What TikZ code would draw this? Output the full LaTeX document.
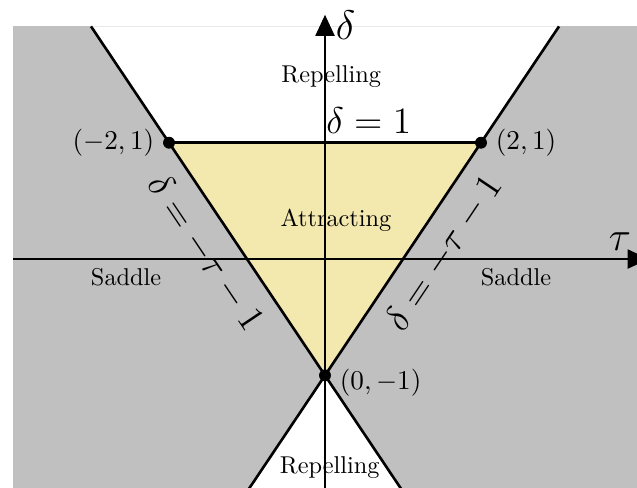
\RequirePackage{fix-cm}
\documentclass[tikz,border=0pt]{standalone}
\usepackage{amsmath}
\usepackage{tikz}
\usetikzlibrary{arrows.meta, positioning}
\definecolor{saddlegray}{RGB}{192,192,192}
\definecolor{attractyellow}{RGB}{243,232,174}

\begin{document}
\begin{tikzpicture}[x=1.15cm, y=1.715cm,
  boundary/.style={line width=1.1pt},
  axis/.style={line width=0.7pt, -{Triangle[length=8.8pt, width=8pt]}},
  fixpt/.style={circle, fill=black, inner sep=0pt, minimum size=5pt},
  region/.style={font=\fontsize{10.2}{12}\selectfont},
  coord/.style={font=\fontsize{11.4}{13.6}\selectfont},
  biglbl/.style={font=\fontsize{15.6}{18}\selectfont},
  axlbl/.style={font=\LARGE}
]
  \clip (-4.167,-1.96) rectangle (4,2.227);
  % regions
  \fill[saddlegray] (-4,-2) rectangle (4.3,2);
  \fill[white] (-3,2) -- (3,2) -- (0,-1) -- cycle;
  \fill[white] (0,-1) -- (-1,-2) -- (1,-2) -- cycle;
  \fill[attractyellow] (-2,1) -- (2,1) -- (0,-1) -- cycle;
  % axes
  \coordinate (tauL) at (-4,0);
  \coordinate (tauR) at (4.15,0);
  \coordinate (delB) at (0,-2);
  \coordinate (delT) at (0,2.1);
  \draw[axis] (tauL) -- (tauR);
  \draw[axis] (delB) -- (delT);
  \node[axlbl] (taulab) at (3.78,0.146) {$\tau$};
  \node[axlbl, anchor=west] (dellab) at (0.03,2.01) {$\delta$};
  % boundaries
  \coordinate (lt) at (-3,2);
  \coordinate (lb) at (1,-2);
  \coordinate (rt) at (3,2);
  \coordinate (rb) at (-1,-2);
  \node[fixpt] (pl) at (-2,1) {};
  \node[fixpt] (pr) at (2,1) {};
  \node[fixpt] (pb) at (0,-1) {};
  \draw[boundary] (lt) -- (lb) node[pos=0.45, sloped, below=3pt, biglbl] {$\delta=-\tau-1$};
  \draw[boundary] (rb) -- (rt) node[pos=0.55, sloped, below=3pt, biglbl] {$\delta=-\tau-1$};
  \draw[boundary] (pl.center) -- (pr.center) node[pos=0.64, above, biglbl] {$\delta=1$};
  \node[coord, left=0pt of pl] (pllab) {$(-2,1)$};
  \node[coord, right=0pt of pr] (prlab) {$(2,1)$};
  \node[coord, right=0pt of pb, yshift=-3pt] (pblab) {$(0,-1)$};
  % region names
  \node[region] (reptop) at (0.08,1.565) {Repelling};
  \node[region] (repbot) at (0.06,-1.79) {Repelling};
  \node[region] (attr) at (0.14,0.33) {Attracting};
  \node[region] (sadl) at (-2.55,-0.16) {Saddle};
  \node[region] (sadr) at (2.45,-0.16) {Saddle};
\end{tikzpicture}
\end{document}
